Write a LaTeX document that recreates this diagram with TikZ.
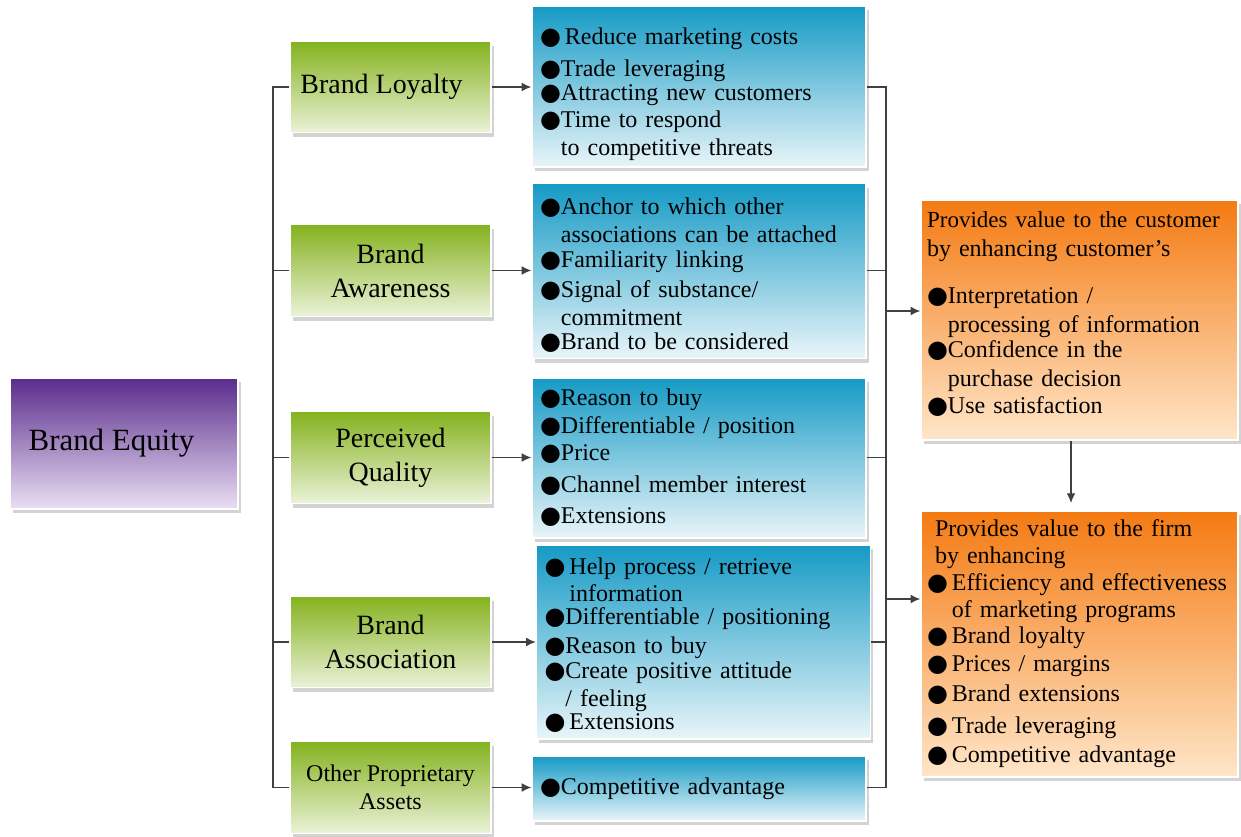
\documentclass[tikz,border=0pt]{standalone}
\usepackage{fontspec}
\setmainfont{Liberation Serif}
\newfontfamily\bulletfont{DejaVu Sans}
\usetikzlibrary{arrows.meta,shadows,calc,positioning}
\definecolor{purpletop}{HTML}{5A2C8C}
\definecolor{purplebot}{HTML}{EADFF3}
\definecolor{greentop}{HTML}{84B21E}
\definecolor{greenbot}{HTML}{EBF2D8}
\definecolor{bluetop}{HTML}{159AC5}
\definecolor{bluebot}{HTML}{E9F5F9}
\definecolor{orangetop}{HTML}{F47A12}
\definecolor{orangebot}{HTML}{FFE6C9}
\definecolor{linegray}{HTML}{404040}
\newcommand{\bul}{{\bulletfont ●}}
\newcommand{\hang}{\phantom{\bul}}
% extra room above the first line / below the last line
\newcommand{\padtop}[1]{\rule{0pt}{#1}}
\newcommand{\padbot}[1]{\rule[-#1]{0pt}{0pt}}
\tikzset{
    semithick, >={Latex[length=5.5pt,width=5pt]},
    shadowed/.style={draw=white, line width=0.8pt,
        drop shadow={shadow xshift=1.5pt,shadow yshift=-2.5pt,opacity=0.35}},
    equity/.style={shadowed, top color=purpletop, bottom color=purplebot,
        minimum width=4.56cm, minimum height=2.62cm, font=\fontsize{17.6}{21}\selectfont},
    asset/.style={shadowed, top color=greentop, bottom color=greenbot, align=center,
        minimum width=4.02cm, minimum height=1.83cm, font=\fontsize{15.9}{19.3}\selectfont},
    benefit/.style={shadowed, top color=bluetop, bottom color=bluebot, align=left,
        text width=6.36cm, inner xsep=0.16cm, font=\fontsize{13.66}{15.37}\selectfont},
    value/.style={shadowed, top color=orangetop, bottom color=orangebot, align=left,
        text width=6.1cm, inner xsep=0.12cm, font=\fontsize{13.66}{15.37}\selectfont},
    link/.style={draw=linegray, line width=0.75pt}
}
\begin{document}
\begin{tikzpicture}[x=0.02cm,y=-0.02cm]
        \useasboundingbox (0,0) rectangle (1241,837);
        \node[equity] (equity) at (124,443.5) {\hspace*{-0.5cm}Brand Equity};
        % brand assets
        \node[asset] (loyalty) at (390.5,87) {\hspace*{-0.36cm}Brand Loyalty};
        \node[asset] (awareness) at (390.5,270.5) {Brand\\Awareness};
        \node[asset] (quality) at (390.5,457.5) {Perceived\\Quality};
        \node[asset] (association) at (390.5,642) {Brand\\Association};
        \node[asset, font=\fontsize{13.66}{15.9}\selectfont] (assets) at (390.5,787.5) {Other Proprietary\\Assets};
        % what each asset brings
        \node[benefit, minimum height=3.22cm] (loyalty-list) at (699,86.5) {\padtop{18.5pt}\bul\,Reduce marketing costs\\[2.8pt]
            \bul Trade leveraging\\[-1.7pt]
            \bul Attracting new customers\\
            \bul Time to respond\\[0.6pt]
            \hang to competitive threats};
        \node[benefit, minimum height=3.48cm] (awareness-list) at (699,271) {\padtop{14pt}\bul Anchor to which other\\[0.6pt]
            \hang associations can be attached\\[-1.1pt]
            \bul Familiarity linking\\[1.7pt]
            \bul Signal of substance/\\[0.6pt]
            \hang commitment\\[-1.7pt]
            \bul Brand to be considered};
        \node[benefit, minimum height=3.2cm] (quality-list) at (699,458) {\bul Reason to buy\\[0.6pt]
            \bul Differentiable / position\\
            \bul Price\\[2.8pt]
            \bul Channel member interest\\[2.3pt]
            \bul Extensions};
        \node[benefit, minimum height=3.88cm] (association-list) at (703.5,642) {\padtop{13pt}\bul\,Help process / retrieve\\
            \hang\,information\\[-2.3pt]
            \bul Differentiable / positioning\\[1.1pt]
            \bul Reason to buy\\[-1.1pt]
            \bul Create positive attitude\\[0.6pt]
            \hang / feeling\\[-2.8pt]
            \bul\,Extensions};
        \node[benefit, minimum height=1.3cm] (assets-list) at (699,788.5) {\bul Competitive advantage};
        % value boxes
        \node[value, minimum height=4.8cm] (custValue) at (1079.5,320) {\mbox{\fontsize{13.1}{15.37}\selectfont Provides value to the customer}\\[1.1pt]
            by enhancing customer’s\\[11.9pt]
            \bul Interpretation /\\[0.6pt]
            \hang processing of information\\[-0.6pt]
            \bul Confidence in the\\[0.6pt]
            \hang purchase decision\\
            \bul Use satisfaction\padbot{9pt}};
        \node[value, minimum height=5.32cm] (firmValue) at (1079.5,644) {\ Provides value to the firm\\
            \ by enhancing\\
            \bul\,Efficiency and effectiveness\\
            \hang\,of marketing programs\\[-0.6pt]
            \bul\,Brand loyalty\\[0.6pt]
            \bul\,Prices / margins\\[1.7pt]
            \bul\,Brand extensions\\[2.8pt]
            \bul\,Trade leveraging\\[1.1pt]
            \bul\,Competitive advantage};
        % left bracket
        \coordinate (trunkL) at (273,787.5);
        \draw[link] (loyalty.west) -| (trunkL) -- (assets.west);
        \foreach \n in {awareness,quality,association}
            \draw[link] (\n.west) -- (\n.west -| trunkL);
        \foreach \n in {loyalty,awareness,quality,association,assets}
            \draw[link,->] (\n) -- (\n -| \n-list.west);
        % right bracket
        \coordinate (trunkR) at (886,787.5);
        \draw[link] (loyalty-list.east |- loyalty) -| (trunkR) -- (assets-list.east |- assets);
        \foreach \n in {awareness,quality,association}
            \draw[link] (\n-list.east |- \n) -- (\n -| trunkR);
        \coordinate (toCust) at (886,311);
        \coordinate (toFirm) at (886,599);
        \draw[link,->] (toCust) -- (toCust -| custValue.west);
        \draw[link,->] (toFirm) -- (toFirm -| firmValue.west);
        \coordinate (down) at (1071,503);
        \draw[link,->] (custValue.south -| down) -- (down);
    \end{tikzpicture}
\end{document}
